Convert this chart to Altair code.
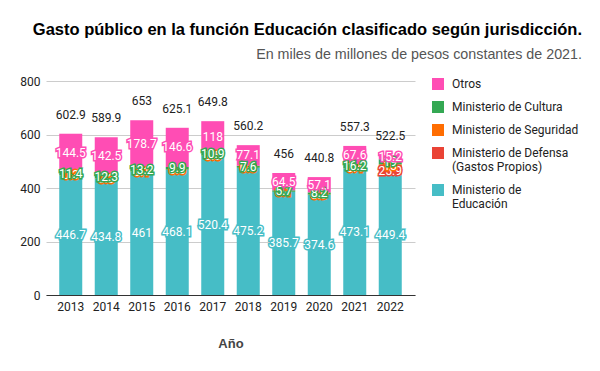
import altair as alt
import pandas as pd

years = ["2013", "2014", "2015", "2016", "2017", "2018", "2019", "2020", "2021", "2022"]
educacion = [446.7, 434.8, 461.0, 468.1, 520.4, 475.2, 385.7, 374.6, 473.1, 449.4]
defensa = [0, 0, 0, 0, 0, 0, 0, 0, 0, 25.9]
seguridad = [0.3, 0.3, 0.1, 0.5, 0.5, 0.3, 0.1, 0.9, 0.4, 13.0]
cultura = [11.4, 12.3, 13.2, 9.9, 10.9, 7.6, 5.7, 8.2, 16.2, 19.0]
otros = [144.5, 142.5, 178.7, 146.6, 118.0, 77.1, 64.5, 57.1, 67.6, 15.2]

series_names = ["Ministerio de Educación", "Ministerio de Defensa (Gastos Propios)",
                "Ministerio de Seguridad", "Ministerio de Cultura", "Otros"]
series_values = [educacion, defensa, seguridad, cultura, otros]
legend_order = ["Otros", "Ministerio de Cultura", "Ministerio de Seguridad",
                "Ministerio de Defensa (Gastos Propios)", "Ministerio de Educación"]
legend_colors = ["#ff4db4", "#34a853", "#ff6d01", "#ea4335", "#46bdc6"]

rows = []
for k, (name, vals) in enumerate(zip(series_names, series_values)):
    for y, v in zip(years, vals):
        rows.append({"year": y, "serie": name, "value": v, "ord": k})
df = pd.DataFrame(rows)

FONT = "Roboto"
TFONT = "Liberation Sans"
color_scale = alt.Scale(domain=legend_order, range=legend_colors)

base = alt.Chart(df).transform_stack(
    stack="value", as_=["y0", "y1"], groupby=["year"],
    sort=[alt.SortField("ord", order="ascending")]
).transform_calculate(mid="(datum.y0 + datum.y1) / 2")

xenc = alt.X("year:N", title="Año",
             scale=alt.Scale(paddingInner=0.352, paddingOuter=0.373),
             axis=alt.Axis(labelAngle=0, ticks=False, domainColor="#333",
                           labelFont=FONT, labelFontSize=12, labelColor="#222",
                           labelPadding=6, titleFont=TFONT, titleFontSize=13,
                           titleFontWeight="bold", titleColor="#444",
                           titlePadding=25))
yscale = alt.Scale(domain=[0, 800])

bars = base.mark_bar().encode(
    x=xenc,
    y=alt.Y("y0:Q", scale=yscale, title=None,
            axis=alt.Axis(values=[0, 200, 400, 600, 800], ticks=False, domain=False,
                          gridColor="#cccccc", labelFont=FONT, labelFontSize=12,
                          labelColor="#222", labelPadding=6)),
    y2="y1:Q",
    color=alt.Color("serie:N", scale=color_scale, sort=legend_order,
                    legend=alt.Legend(title=None, orient="none", legendX=386, legendY=-3,
                                      symbolType="square", symbolSize=144,
                                      symbolStrokeWidth=0, labelFont=FONT,
                                      labelFontSize=12, labelColor="#222",
                                      labelOffset=8, rowPadding=11, padding=0,
                                      labelLimit=200,
                                      labelExpr="datum.label == 'Ministerio de Educación' ? ['Ministerio de', 'Educación'] : datum.label == 'Ministerio de Defensa (Gastos Propios)' ? ['Ministerio de Defensa', '(Gastos Propios)'] : datum.label")),
)

layers = [bars]
for k, name in enumerate(series_names):
    lab = base.transform_filter(alt.datum.serie == name).transform_filter("datum.value > 0")
    col = legend_colors[legend_order.index(name)]
    halo = lab.mark_text(fontSize=12, font=FONT, strokeWidth=3, baseline="middle",
                         color=col, stroke=col).encode(
        x="year:N", y=alt.Y("mid:Q", scale=yscale),
        text=alt.Text("value:Q", format=".1~f"),
    )
    white = lab.mark_text(fontSize=12, font=FONT, color="white", baseline="middle").encode(
        x="year:N", y=alt.Y("mid:Q", scale=yscale),
        text=alt.Text("value:Q", format=".1~f"),
    )
    layers += [halo, white]

totals = alt.Chart(df).transform_aggregate(
    total="sum(value)", groupby=["year"]
).mark_text(fontSize=12, font=FONT, color="#222", baseline="bottom", dy=-12).encode(
    x="year:N", y=alt.Y("total:Q", scale=yscale),
    text=alt.Text("total:Q", format=".1~f"),
)
layers.append(totals)

chart = alt.layer(*layers).properties(
    width=369, height=214,
    autosize=alt.AutoSizeParams(type="none"),
    padding={"left": 38, "top": 73, "right": 177, "bottom": 68},
    title=alt.TitleParams(
        text="Gasto público en la función Educación clasificado según jurisdicción.",
        subtitle="En miles de millones de pesos constantes de 2021.",
        anchor="end", frame="group", dx=167, offset=13,
        font=TFONT, fontSize=16.5, fontWeight="bold", color="#000",
        subtitleFont=TFONT, subtitleFontSize=14.3, subtitleColor="#555",
        subtitlePadding=9),
).configure_view(stroke=None)

chart.save("out.html", embed_options={"renderer": "svg", "actions": False})
